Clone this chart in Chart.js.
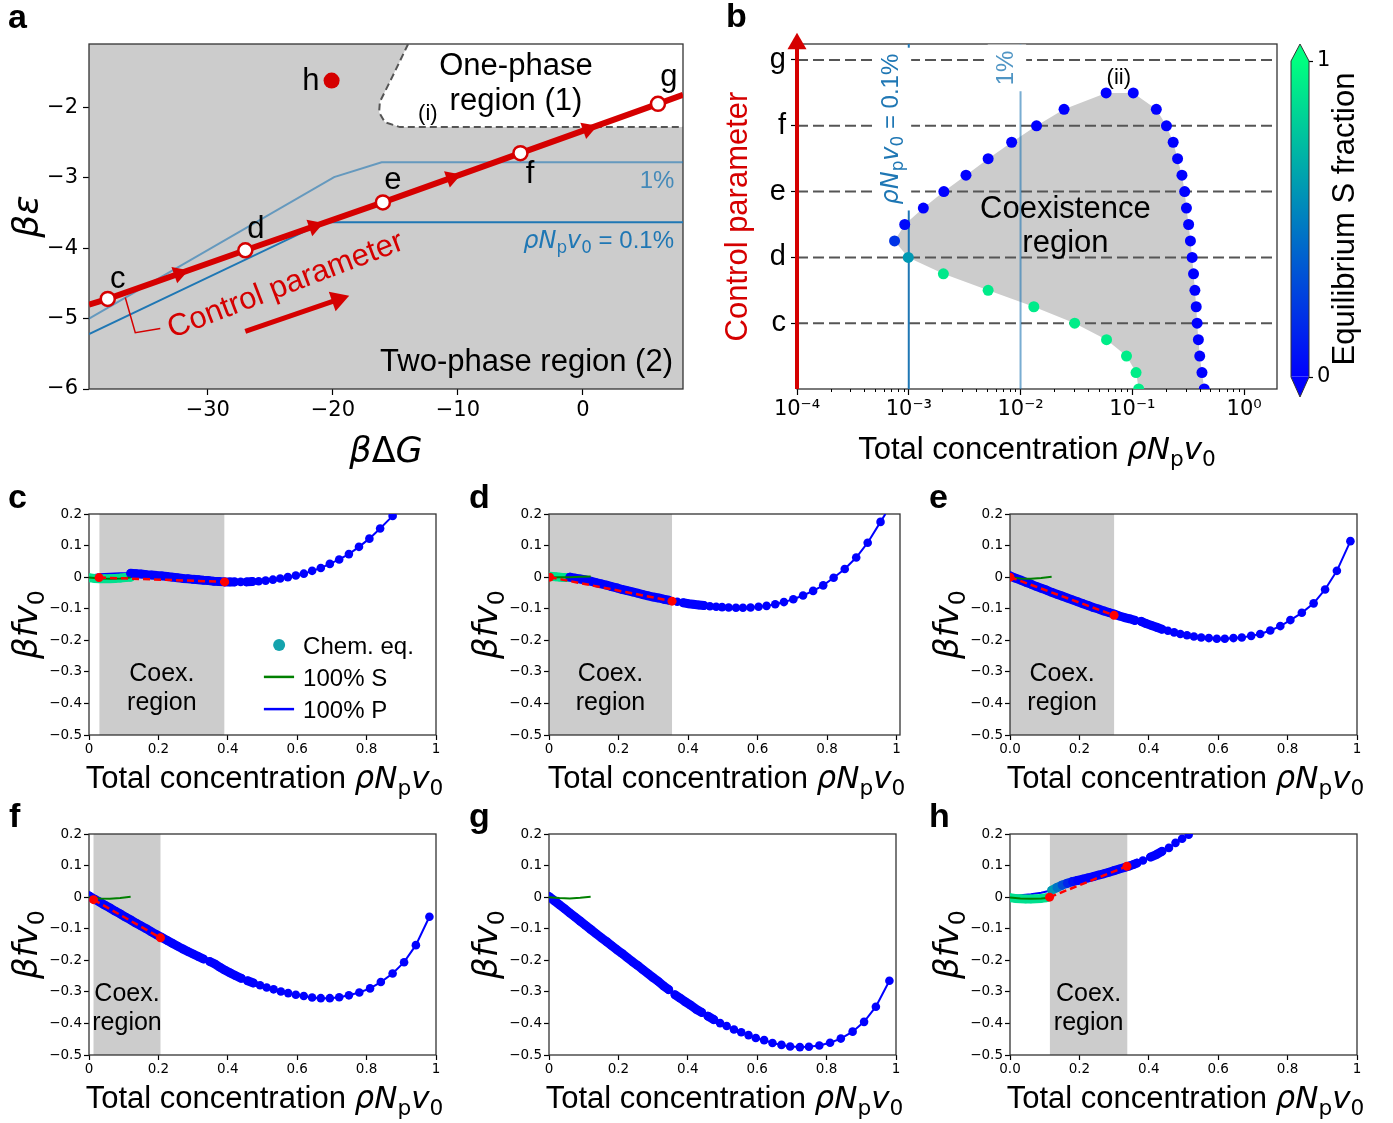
<!DOCTYPE html>
<html>
<head>
<meta charset="utf-8">
<title>Phase diagram and free energy curves</title>
<script src="https://cdn.jsdelivr.net/npm/chart.js@4.4.1/dist/chart.umd.min.js"></script>
<style>
  body { margin: 0; background: #fff; }
  #fig { position: relative; width: 1393px; height: 1123px; overflow: hidden; }
  #fig canvas { position: absolute; }
  .tag { position: absolute; font: bold 34px "Liberation Sans", Arial, sans-serif; line-height: 34px; z-index: 2; }
</style>
</head>
<body>
<div id="fig">
  <canvas id="chartA" width="700" height="475" style="left:0;top:0;width:700px;height:475px"></canvas>
  <canvas id="chartB" width="590" height="475" style="left:700px;top:0;width:590px;height:475px"></canvas>
  <canvas id="chartCb" width="113" height="420" style="left:1280px;top:0;width:113px;height:420px"></canvas>
  <canvas id="chartC" width="460" height="320" style="left:0;top:480px;width:460px;height:320px"></canvas>
  <canvas id="chartD" width="460" height="320" style="left:460px;top:480px;width:460px;height:320px"></canvas>
  <canvas id="chartE" width="473" height="320" style="left:920px;top:480px;width:473px;height:320px"></canvas>
  <canvas id="chartF" width="460" height="323" style="left:0;top:800px;width:460px;height:323px"></canvas>
  <canvas id="chartG" width="460" height="323" style="left:460px;top:800px;width:460px;height:323px"></canvas>
  <canvas id="chartH" width="473" height="323" style="left:920px;top:800px;width:473px;height:323px"></canvas>
  <div class="tag" style="left:8px;top:-1px">a</div>
  <div class="tag" style="left:726px;top:-2px">b</div>
  <div class="tag" style="left:8px;top:479px">c</div>
  <div class="tag" style="left:469px;top:479px">d</div>
  <div class="tag" style="left:929px;top:479px">e</div>
  <div class="tag" style="left:9px;top:798px">f</div>
  <div class="tag" style="left:469px;top:798px">g</div>
  <div class="tag" style="left:929px;top:798px">h</div>
</div>
<script>
// ---- panel a: phase diagram (beta dG, beta eps) ----
const aXTicks = [-30, -20, -10, 0];
const aXLabels = ['−30', '−20', '−10', '0'];
const aYTicks = [-6, -5, -4, -3, -2];
const aYLabels = ['−6', '−5', '−4', '−3', '−2'];
const binodalDG = [-13.98, -15.2, -16.24, -16.3, -15.84, -14.64, 8];
const binodalEps = [-1.10, -1.55, -1.92, -2.07, -2.21, -2.28, -2.28];
const line1DG = [-39.5, -19.9, -16.1, 8];
const line1Eps = [-5.0, -2.99, -2.78, -2.78];
const line01DG = [-39.5, -20.7, 8];
const line01Eps = [-5.22, -3.63, -3.63];
const ctrlDG = [-38, -27, -16, -5, 6];
const ctrlEps = [-4.72, -4.03, -3.35, -2.65, -1.95];
const ctrlEndEps = [-4.80, -1.82];
const ctrlArrowDG = [-32.3, -21.5, -10.5, 0.4];
const ctrlArrowEps = [-4.36, -3.69, -3.0, -2.31];
const pointH = [-20.1, -1.62];
const bracketDG = [-36.6, -35.8, -33.8];
const bracketEps = [-4.70, -5.20, -5.14];
const bigArrowDG = [-27, -19.6];
const bigArrowEps = [-5.18, -4.73];

// ---- panel b: coexistence region vs control parameter ----
const bXTicks = [1e-4, 1e-3, 1e-2, 1e-1, 1];
const bXLabels = ['10⁻⁴', '10⁻³', '10⁻²', '10⁻¹', '10⁰'];
const bYTicks = [1, 2, 3, 4, 5];
const bYLabels = ['c', 'd', 'e', 'f', 'g'];
const lowY = [0, 0.25, 0.5, 0.75, 1.0, 1.25, 1.5, 1.75, 2.0];
const lowX = [0.114, 0.108, 0.0887, 0.0588, 0.0305, 0.01315, 0.00513, 0.00204, 0.00099];
const lowS = [0.93, 0.93, 0.93, 0.93, 0.93, 0.92, 0.92, 0.91, 0.6];
const leftY = [2.25, 2.5, 2.75, 3.0, 3.25, 3.5, 3.75, 4.0, 4.25, 4.5];
const leftX = [0.000746, 0.00092, 0.00135, 0.00206, 0.00325, 0.00513, 0.00833, 0.0139, 0.0245, 0.0583];
const leftS = [0.2, 0.03, 0, 0, 0, 0, 0, 0, 0, 0];
const rightY = [4.5, 4.25, 4.0, 3.75, 3.5, 3.25, 3.0, 2.75, 2.5, 2.25, 2.0, 1.75, 1.5, 1.25, 1.0, 0.75, 0.5, 0.25, 0];
const rightX = [0.102, 0.164, 0.202, 0.232, 0.254, 0.278, 0.294, 0.305, 0.319, 0.331, 0.343, 0.353, 0.363, 0.373, 0.380, 0.390, 0.401, 0.420, 0.440];
const cbTicks = [0, 1];
const cbLabels = ['0', '1'];

// ---- panels c-h: free energy curves ----
const smallXTicks = [0, 0.2, 0.4, 0.6, 0.8, 1];
const smallXLabelsInt = ['0', '0.2', '0.4', '0.6', '0.8', '1'];
const smallXLabelsDec = ['0.0', '0.2', '0.4', '0.6', '0.8', '1'];
const smallYTicks = [-0.5, -0.4, -0.3, -0.2, -0.1, 0, 0.1, 0.2];
const smallYLabels = ['−0.5', '−0.4', '−0.3', '−0.2', '−0.1', '0', '0.1', '0.2'];

const cLeadX = [0, 0.03, 0.06, 0.09];
const cLeadY = [0.004, 0.009, 0.011, 0.012];
const cEqX = [0.12, 0.135, 0.15, 0.165, 0.18, 0.195, 0.21, 0.225, 0.24, 0.255, 0.27, 0.285, 0.3, 0.315, 0.33, 0.345, 0.36, 0.375, 0.39, 0.406, 0.42, 0.437, 0.454, 0.471, 0.489, 0.509, 0.53, 0.551, 0.573, 0.596, 0.619, 0.643, 0.668, 0.694, 0.721, 0.749, 0.778, 0.808, 0.839, 0.875];
const cEqY = [0.012, 0.011, 0.010, 0.008, 0.007, 0.005, 0.004, 0.002, 0.0, -0.002, -0.004, -0.005, -0.007, -0.008, -0.010, -0.011, -0.013, -0.014, -0.015, -0.015, -0.015, -0.015, -0.015, -0.014, -0.013, -0.011, -0.008, -0.0045, 0.0, 0.005, 0.011, 0.020, 0.029, 0.042, 0.056, 0.073, 0.096, 0.122, 0.154, 0.194];
const cTailX = [0.882];
const cTailY = [0.2];
const cGrX = [0, 0.015, 0.03, 0.045, 0.06, 0.075, 0.09, 0.105, 0.12];
const cGrY = [-0.002, -0.004, -0.005, -0.005, -0.005, -0.004, -0.003, -0.001, 0.0];
const cSX = [0, 0.03, 0.06, 0.09, 0.12];
const cSY = [-0.001, -0.004, -0.005, -0.004, -0.001];
const cTanX = [0.029, 0.391];
const cTanY = [-0.0014, -0.015];
const cCoex = [0.03, 0.39];

const dLeadX = [0, 0.03];
const dLeadY = [0.003, 0.003];
const dEqX = [0.06, 0.075, 0.09, 0.105, 0.12, 0.135, 0.15, 0.165, 0.18, 0.195, 0.21, 0.225, 0.24, 0.255, 0.27, 0.285, 0.3, 0.315, 0.33, 0.345, 0.369, 0.386, 0.4, 0.415, 0.431, 0.446, 0.463, 0.481, 0.498, 0.517, 0.538, 0.558, 0.58, 0.603, 0.626, 0.651, 0.676, 0.703, 0.731, 0.76, 0.789, 0.819, 0.851, 0.884, 0.917, 0.954];
const dEqY = [0.0, -0.003, -0.006, -0.009, -0.013, -0.017, -0.021, -0.025, -0.030, -0.034, -0.039, -0.043, -0.047, -0.051, -0.055, -0.059, -0.063, -0.066, -0.070, -0.073, -0.078, -0.081, -0.084, -0.086, -0.088, -0.090, -0.092, -0.094, -0.095, -0.096, -0.097, -0.097, -0.096, -0.094, -0.091, -0.086, -0.079, -0.070, -0.058, -0.0435, -0.026, -0.002, 0.026, 0.062, 0.109, 0.175];
const dTailX = [0.968];
const dTailY = [0.2];
const dGrX = [0, 0.01, 0.02, 0.03, 0.04, 0.05];
const dGrY = [0.003, 0.002, 0.001, 0.0, -0.001, -0.001];
const dSX = [0, 0.03, 0.06, 0.09, 0.12];
const dSY = [-0.001, 0.0, 0.0, 0.001, 0.002];
const dTanX = [0.002, 0.354];
const dTanY = [0.0, -0.076];
const dCoex = [0, 0.354];

const eEqX = [0, 0.015, 0.03, 0.045, 0.06, 0.075, 0.09, 0.105, 0.12, 0.135, 0.15, 0.165, 0.18, 0.195, 0.21, 0.225, 0.24, 0.255, 0.27, 0.285, 0.3, 0.315, 0.33, 0.345, 0.36, 0.378, 0.392, 0.408, 0.423, 0.438, 0.455, 0.473, 0.491, 0.51, 0.53, 0.551, 0.573, 0.596, 0.619, 0.644, 0.668, 0.695, 0.721, 0.75, 0.779, 0.808, 0.841, 0.875, 0.908, 0.942, 0.981];
const eEqY = [0.004, -0.003, -0.009, -0.016, -0.022, -0.029, -0.035, -0.041, -0.048, -0.054, -0.060, -0.066, -0.072, -0.078, -0.084, -0.090, -0.096, -0.101, -0.107, -0.112, -0.117, -0.123, -0.128, -0.132, -0.137, -0.140, -0.147, -0.153, -0.159, -0.165, -0.170, -0.175, -0.180, -0.184, -0.188, -0.191, -0.193, -0.195, -0.195, -0.193, -0.191, -0.186, -0.180, -0.169, -0.155, -0.136, -0.113, -0.083, -0.039, 0.020, 0.114];
const eSX = [0, 0.03, 0.06, 0.09, 0.12];
const eSY = [0.0, -0.004, -0.005, -0.003, 0.001];
const eTanX = [0.0, 0.30];
const eTanY = [0.0, -0.121];
const eCoex = [0, 0.30];

const fEqX = [0, 0.015, 0.03, 0.045, 0.06, 0.075, 0.09, 0.105, 0.12, 0.135, 0.15, 0.165, 0.18, 0.195, 0.21, 0.225, 0.24, 0.255, 0.27, 0.285, 0.3, 0.315, 0.33, 0.348, 0.363, 0.377, 0.391, 0.407, 0.423, 0.439, 0.457, 0.474, 0.493, 0.512, 0.532, 0.553, 0.574, 0.596, 0.619, 0.643, 0.668, 0.694, 0.721, 0.749, 0.779, 0.81, 0.841, 0.875, 0.908, 0.942, 0.981];
const fEqY = [0.004, -0.006, -0.015, -0.025, -0.034, -0.044, -0.053, -0.063, -0.072, -0.082, -0.091, -0.100, -0.110, -0.119, -0.128, -0.137, -0.146, -0.155, -0.164, -0.172, -0.180, -0.188, -0.196, -0.204, -0.212, -0.222, -0.231, -0.240, -0.249, -0.257, -0.265, -0.272, -0.279, -0.286, -0.292, -0.299, -0.304, -0.309, -0.313, -0.318, -0.320, -0.320, -0.317, -0.311, -0.302, -0.289, -0.269, -0.242, -0.206, -0.152, -0.062];
const fSX = [0, 0.03, 0.06, 0.09, 0.12];
const fSY = [0.0, -0.004, -0.005, -0.003, 0.001];
const fTanX = [0.013, 0.206];
const fTanY = [-0.008, -0.129];
const fCoex = [0.013, 0.206];

const gEqX = [0, 0.015, 0.03, 0.045, 0.06, 0.075, 0.09, 0.105, 0.12, 0.135, 0.15, 0.165, 0.18, 0.195, 0.21, 0.225, 0.24, 0.255, 0.27, 0.285, 0.3, 0.315, 0.33, 0.345, 0.363, 0.378, 0.392, 0.408, 0.424, 0.44, 0.458, 0.475, 0.493, 0.512, 0.533, 0.554, 0.575, 0.596, 0.62, 0.644, 0.67, 0.695, 0.723, 0.749, 0.779, 0.81, 0.841, 0.875, 0.908, 0.942, 0.981];
const gEqY = [0.002, -0.011, -0.024, -0.037, -0.050, -0.063, -0.076, -0.089, -0.102, -0.115, -0.128, -0.140, -0.153, -0.166, -0.178, -0.191, -0.204, -0.216, -0.229, -0.242, -0.255, -0.267, -0.281, -0.293, -0.309, -0.320, -0.331, -0.342, -0.355, -0.365, -0.377, -0.388, -0.399, -0.408, -0.419, -0.428, -0.437, -0.446, -0.453, -0.462, -0.468, -0.473, -0.475, -0.474, -0.470, -0.461, -0.448, -0.426, -0.395, -0.347, -0.265];
const gSX = [0, 0.03, 0.06, 0.09, 0.12];
const gSY = [0.0, -0.003, -0.004, -0.002, 0.001];

const hLeadX = [0, 0.03, 0.06, 0.09];
const hLeadY = [0.005, 0.006, 0.009, 0.014];
const hEqX = [0.12, 0.135, 0.15, 0.165, 0.18, 0.195, 0.21, 0.225, 0.24, 0.255, 0.27, 0.285, 0.3, 0.315, 0.33, 0.345, 0.355, 0.366, 0.383, 0.405, 0.422, 0.438, 0.458, 0.477, 0.496, 0.515];
const hEqY = [0.022, 0.030, 0.038, 0.044, 0.049, 0.053, 0.057, 0.061, 0.065, 0.070, 0.074, 0.079, 0.084, 0.089, 0.094, 0.099, 0.103, 0.108, 0.116, 0.127, 0.135, 0.145, 0.156, 0.172, 0.185, 0.198];
const hEqS = [0.6, 0.45, 0.3, 0.15, 0.05, 0, 0, 0, 0, 0, 0, 0, 0, 0, 0, 0, 0, 0, 0, 0, 0, 0, 0, 0, 0, 0];
const hTailX = [0.53];
const hTailY = [0.21];
const hGrX = [0, 0.015, 0.03, 0.045, 0.06, 0.075, 0.09, 0.105];
const hGrY = [-0.002, -0.004, -0.005, -0.006, -0.006, -0.005, -0.004, -0.002];
const hSX = [0, 0.03, 0.06, 0.09, 0.12];
const hSY = [-0.001, -0.004, -0.005, -0.004, -0.001];
const hTanX = [0.114, 0.337];
const hTanY = [0.0, 0.098];
const hCoex = [0.115, 0.338];

// ---- look ----
const FR = '"Liberation Sans", Arial, sans-serif';
const FM = '"DejaVu Sans", sans-serif';
const RED = '#d50000';
const C0 = '#1f77b4';
const C0L = 'rgba(31,119,180,0.6)';
const C0T = 'rgba(31,119,180,0.78)';
const GREY = '#cccccc';
const TEAL = '#14a3ad';
const GREEN_S = 0.88;
const DENSE_GAP = 0.017;   // points closer than this merge into a band

Chart.defaults.font.family = FM;
Chart.defaults.color = '#000';
Chart.defaults.animation = false;
Chart.defaults.events = [];
Chart.defaults.plugins.legend.display = false;
Chart.defaults.plugins.tooltip.enabled = false;

function pts(xs, ys) { return xs.map((x, i) => ({ x: x, y: ys[i] })); }
function winter(s) { return 'rgb(0,' + Math.round(255 * s) + ',' + Math.round(255 * (1 - 0.5 * s)) + ')'; }

function ds(xs, ys, extra) {
  return Object.assign({ data: pts(xs, ys), showLine: false, pointRadius: 0, pointBorderWidth: 0, borderWidth: 2 }, extra);
}

// markers that sit close together are drawn as one thick band
function bandDs(xs, ys, colors, extra) {
  return ds(xs, ys, Object.assign({
    showLine: true, borderWidth: 9, borderCapStyle: 'round', borderJoinStyle: 'round',
    borderColor: 'rgba(0,0,0,0)', pointRadius: 4.3,
    pointBackgroundColor: colors,
    segment: {
      borderColor: s => (s.p1.parsed.x - s.p0.parsed.x) < DENSE_GAP ? colors[s.p0DataIndex] : 'rgba(0,0,0,0)'
    }
  }, extra));
}

function axis(o) {
  return {
    type: o.type || 'linear', min: o.min, max: o.max, bounds: 'data', position: o.position,
    afterBuildTicks: s => { s.ticks = o.ticks.map(v => ({ value: v })); },
    afterFit: s => { if (o.width != null) s.width = o.width; if (o.height != null) s.height = o.height; },
    grid: { drawOnChartArea: false, drawTicks: true, tickLength: o.tickLength || 5, tickColor: '#000', tickWidth: 1.2 },
    border: { display: false },
    ticks: {
      autoSkip: false, maxRotation: 0, minRotation: 0, padding: o.pad, color: '#000',
      font: { family: o.family || FM, size: o.size },
      callback: (v, i) => o.labels[i]
    }
  };
}

function fontFor(style, size) {
  if (style === 'i') return 'italic ' + size + 'px ' + FM;
  if (style === 'm') return size + 'px ' + FM;
  if (style === 'sub') return (size * 0.7) + 'px ' + FM;
  return size + 'px ' + FR;
}

// text made of runs: regular, math italic, math upright, subscript
function drawRich(ctx, parts, x, y, size, opt) {
  opt = opt || {};
  ctx.save();
  ctx.translate(x, y);
  if (opt.rot) ctx.rotate(opt.rot);
  let w = 0;
  parts.forEach(p => { ctx.font = fontFor(p[1], size); w += ctx.measureText(p[0]).width; });
  let cx = opt.align === 'left' ? 0 : opt.align === 'right' ? -w : -w / 2;
  const dy = opt.middle ? size * 0.35 : 0;
  if (opt.box) {
    const pad = 6;
    ctx.fillStyle = '#fff';
    ctx.fillRect(cx - pad, dy - size * 0.8 - pad, w + 2 * pad, size * 1.1 + 2 * pad);
  }
  ctx.fillStyle = opt.color || '#000';
  ctx.textAlign = 'left';
  ctx.textBaseline = 'alphabetic';
  parts.forEach(p => {
    ctx.font = fontFor(p[1], size);
    ctx.fillText(p[0], cx, dy + (p[1] === 'sub' ? size * 0.22 : 0));
    cx += ctx.measureText(p[0]).width;
  });
  ctx.restore();
}

function drawLabels(chart, list) {
  const { ctx, scales: { x, y } } = chart;
  list.forEach(l => drawRich(ctx, l.parts, x.getPixelForValue(l.x), y.getPixelForValue(l.y), l.size, l));
}

function drawFrame(chart) {
  const { ctx, chartArea: a } = chart;
  ctx.save();
  ctx.strokeStyle = '#333';
  ctx.lineWidth = 1.3;
  ctx.strokeRect(a.left, a.top, a.right - a.left, a.bottom - a.top);
  ctx.restore();
}

const RHO_NPV0 = [['ρ', 'i'], ['N', 'i'], ['p', 'sub'], ['v', 'i'], ['0', 'sub']];
const X_TITLE = [['Total concentration ', 'r']].concat(RHO_NPV0);
const Y_TITLE_SMALL = [['β', 'i'], ['f', 'i'], ['v', 'i'], ['0', 'sub']];

// ================= panel a =================
const aLabels = [
  { parts: [['h', 'r']], x: -21.76, y: -1.76, size: 31 },
  { parts: [['One-phase', 'r']], x: -5.36, y: -1.545, size: 31 },
  { parts: [['region (1)', 'r']], x: -5.36, y: -2.04, size: 31 },
  { parts: [['(i)', 'r']], x: -12.4, y: -2.18, size: 22 },
  { parts: [['g', 'r']], x: 6.88, y: -1.69, size: 31 },
  { parts: [['f', 'r']], x: -4.24, y: -3.08, size: 31 },
  { parts: [['e', 'r']], x: -15.2, y: -3.16, size: 31 },
  { parts: [['d', 'r']], x: -26.16, y: -3.86, size: 31 },
  { parts: [['c', 'r']], x: -37.2, y: -4.56, size: 31 },
  { parts: [['1%', 'r']], x: 5.92, y: -3.14, size: 24, color: C0T },
  { parts: RHO_NPV0.concat([[' = 0.1%', 'r']]), x: 7.28, y: -4.0, size: 24, color: C0, align: 'right' },
  { parts: [['Two-phase region (2)', 'r']], x: 7.2, y: -5.74, size: 31, align: 'right' },
  { parts: [['Control parameter', 'r']], x: -23.84, y: -4.5, size: 31, color: RED, rot: -21 * Math.PI / 180, middle: true }
];

const panelAPlugin = {
  id: 'panelA',
  beforeDatasetsDraw(chart) {
    const { ctx, chartArea: a, scales: { x, y } } = chart;
    ctx.save();
    ctx.fillStyle = GREY;
    ctx.fillRect(a.left, a.top, a.right - a.left, a.bottom - a.top);
    ctx.beginPath();
    binodalDG.forEach((g, i) => {
      const px = x.getPixelForValue(g), py = y.getPixelForValue(binodalEps[i]);
      if (i === 0) ctx.moveTo(px, py); else ctx.lineTo(px, py);
    });
    ctx.lineTo(x.getPixelForValue(x.max), y.getPixelForValue(y.max));
    ctx.closePath();
    ctx.fillStyle = '#fff';
    ctx.fill();
    ctx.restore();
    drawFrame(chart);
  },
  afterDatasetsDraw(chart) {
    const { ctx, chartArea: a } = chart;
    drawLabels(chart, aLabels);
    drawRich(ctx, [['β', 'i'], ['Δ', 'm'], ['G', 'i']], (a.left + a.right) / 2, a.bottom + 73, 35);
    drawRich(ctx, [['β', 'i'], ['ε', 'i']], a.left - 51, (a.top + a.bottom) / 2, 36, { rot: -Math.PI / 2 });
  }
};

new Chart(document.getElementById('chartA'), {
  type: 'scatter',
  data: {
    datasets: [
      ds(ctrlDG, ctrlEps, { pointRadius: 7, pointBackgroundColor: '#fff', pointBorderColor: RED, pointBorderWidth: 2.5, order: 0 }),
      ds(ctrlArrowDG, ctrlArrowEps, { pointStyle: 'triangle', pointRotation: 70.6, pointRadius: 10, pointBackgroundColor: RED, order: 1 }),
      ds([-39.5].concat(ctrlDG, [8]), [ctrlEndEps[0]].concat(ctrlEps, [ctrlEndEps[1]]), { showLine: true, borderColor: RED, borderWidth: 6, order: 2 }),
      ds([pointH[0]], [pointH[1]], { pointRadius: 8, pointBackgroundColor: RED, order: 3 }),
      ds(bracketDG, bracketEps, { showLine: true, borderColor: RED, borderWidth: 1.5, order: 4 }),
      ds(bigArrowDG, bigArrowEps, { showLine: true, borderColor: RED, borderWidth: 5, pointStyle: 'triangle', pointRotation: 70.9, pointRadius: [0, 12], pointBackgroundColor: RED, order: 5 }),
      ds(line01DG, line01Eps, { showLine: true, borderColor: C0, borderWidth: 2, order: 6 }),
      ds(line1DG, line1Eps, { showLine: true, borderColor: C0L, borderWidth: 2, order: 7 }),
      ds(binodalDG, binodalEps, { showLine: true, borderColor: '#555', borderWidth: 2, borderDash: [7, 4], order: 8 })
    ]
  },
  options: {
    responsive: false,
    layout: { padding: { top: 44, right: 17, left: 0, bottom: 0 } },
    scales: {
      x: axis({ min: -39.5, max: 8, ticks: aXTicks, labels: aXLabels, height: 86, size: 21, pad: 3, tickLength: 6 }),
      y: axis({ min: -6, max: -1.1, ticks: aYTicks, labels: aYLabels, width: 89, size: 21, pad: 5, tickLength: 6 })
    }
  },
  plugins: [panelAPlugin]
});

// ================= panel b =================
const bMaxX = 1.97;
const bMaxY = 5.243;
const bLabels = [
  { parts: [['(ii)', 'r']], x: 0.0757, y: 4.757, size: 22, middle: true },
  { parts: [['Coexistence', 'r']], x: 0.0252, y: 2.60, size: 31 },
  { parts: [['region', 'r']], x: 0.0252, y: 2.08, size: 31 },
  { parts: RHO_NPV0.concat([[' = 0.1%', 'r']]), x: 8.0e-4, y: 3.95, size: 24, color: C0, rot: -Math.PI / 2, box: true },
  { parts: [['1%', 'r']], x: 0.00855, y: 4.88, size: 24, color: C0T, rot: -Math.PI / 2, box: true }
];

const dotX = lowX.concat(leftX, rightX);
const dotY = lowY.concat(leftY, rightY);
const dotS = lowS.concat(leftS, rightX.map(() => 0));

const panelBPlugin = {
  id: 'panelB',
  beforeDatasetsDraw(chart) {
    const { ctx, scales: { x, y } } = chart;
    ctx.save();
    ctx.beginPath();
    dotX.forEach((v, i) => {
      const px = x.getPixelForValue(v), py = y.getPixelForValue(dotY[i]);
      if (i === 0) ctx.moveTo(px, py); else ctx.lineTo(px, py);
    });
    ctx.closePath();
    ctx.fillStyle = GREY;
    ctx.fill();
    ctx.restore();
    drawFrame(chart);
  },
  afterDraw(chart) {
    const { ctx, chartArea: a, scales: { x } } = chart;
    // minor ticks of the log axis
    ctx.save();
    ctx.strokeStyle = '#000';
    ctx.lineWidth = 1;
    for (let d = -4; d <= 0; d++) {
      for (let m = 2; m <= 9; m++) {
        const v = m * Math.pow(10, d);
        if (v > x.max) continue;
        const px = Math.round(x.getPixelForValue(v)) + 0.5;
        ctx.beginPath(); ctx.moveTo(px, a.bottom); ctx.lineTo(px, a.bottom + 3); ctx.stroke();
      }
    }
    ctx.restore();
    drawLabels(chart, bLabels);
    drawRich(ctx, X_TITLE, (a.left + a.right) / 2, a.bottom + 70, 31);
    drawRich(ctx, [['Control parameter', 'r']], a.left - 50, (a.top + a.bottom) / 2, 31, { rot: -Math.PI / 2, color: RED });
  }
};

const bDatasets = [
  ds(dotX, dotY, { pointRadius: 5.5, pointBackgroundColor: dotS.map(winter), order: 0 }),
  ds([1e-4, 1e-4], [0, 5.248], { showLine: true, borderColor: RED, borderWidth: 4, pointStyle: 'triangle', pointRadius: [0, 11], pointBackgroundColor: RED, clip: false, order: 1 }),
  ds([1e-3, 1e-3], [0, bMaxY], { showLine: true, borderColor: C0, borderWidth: 2, order: 2 }),
  ds([1e-2, 1e-2], [0, bMaxY], { showLine: true, borderColor: C0L, borderWidth: 2, order: 3 })
];
bYTicks.forEach((lv, i) => {
  bDatasets.push(ds([1e-4, bMaxX], [lv, lv], { showLine: true, borderColor: '#555', borderWidth: 2, borderDash: [11, 5], order: 4 + i }));
});

new Chart(document.getElementById('chartB'), {
  type: 'scatter',
  data: { datasets: bDatasets },
  options: {
    responsive: false,
    layout: { padding: { top: 44, right: 13, left: 0, bottom: 0 } },
    scales: {
      x: axis({ type: 'logarithmic', min: 1e-4, max: bMaxX, ticks: bXTicks, labels: bXLabels, height: 86, size: 21, pad: 2, tickLength: 6 }),
      y: axis({ min: 0, max: bMaxY, ticks: bYTicks, labels: bYLabels, width: 97, size: 29, family: FR, pad: 5, tickLength: 6 })
    }
  },
  plugins: [panelBPlugin]
});

// ================= colorbar =================
const cbPlugin = {
  id: 'cbar',
  afterDatasetsDraw(chart) {
    const { ctx, chartArea: a } = chart;
    const mid = (a.left + a.right) / 2;
    ctx.save();
    ctx.beginPath(); ctx.moveTo(a.left, a.top); ctx.lineTo(mid, a.top - 17); ctx.lineTo(a.right, a.top); ctx.closePath();
    ctx.fillStyle = winter(1); ctx.fill();
    ctx.beginPath(); ctx.moveTo(a.left, a.bottom); ctx.lineTo(mid, a.bottom + 20); ctx.lineTo(a.right, a.bottom); ctx.closePath();
    ctx.fillStyle = winter(0); ctx.fill();
    ctx.beginPath();
    ctx.moveTo(a.left, a.top); ctx.lineTo(mid, a.top - 17); ctx.lineTo(a.right, a.top);
    ctx.lineTo(a.right, a.bottom); ctx.lineTo(mid, a.bottom + 20); ctx.lineTo(a.left, a.bottom); ctx.closePath();
    ctx.strokeStyle = '#333'; ctx.lineWidth = 1; ctx.stroke();
    ctx.restore();
    drawRich(ctx, [['Equilibrium S fraction', 'r']], a.right + 45, (a.top + a.bottom) / 2, 31, { rot: -Math.PI / 2 });
  }
};

new Chart(document.getElementById('chartCb'), {
  type: 'bar',
  data: {
    labels: [''],
    datasets: [{
      data: [1], barPercentage: 1, categoryPercentage: 1, borderWidth: 0,
      backgroundColor: c => {
        const a = c.chart.chartArea;
        if (!a) return winter(0);
        const g = c.chart.ctx.createLinearGradient(0, a.bottom, 0, a.top);
        g.addColorStop(0, winter(0));
        g.addColorStop(1, winter(1));
        return g;
      }
    }]
  },
  options: {
    responsive: false,
    layout: { padding: { top: 61, left: 11, right: 0, bottom: 43 } },
    scales: {
      x: { display: false },
      y: axis({ min: 0, max: 1, position: 'right', ticks: cbTicks, labels: cbLabels, width: 84, size: 21, pad: 4, tickLength: 4 })
    }
  },
  plugins: [cbPlugin]
});

// ================= panels c-h =================
const coexTextY = [-0.329, -0.421];
const legendSpec = { dot: [0.548, -0.215], lineX: [0.504, 0.591], lineY: [-0.316, -0.418], textX: 0.617, textY: [-0.243, -0.345, -0.446] };

function smallPanel(p) {
  const datasets = [];
  const eqColors = p.eqX.map((_, i) => winter(p.eqS ? p.eqS[i] : 0));
  if (p.tanX) datasets.push(ds(p.tanX, p.tanY, { showLine: true, borderColor: '#ff0000', borderWidth: 2.5, borderDash: [7, 4], pointRadius: 4.5, pointBackgroundColor: '#ff0000', order: 0 }));
  datasets.push(ds(p.sX, p.sY, { showLine: true, borderColor: '#008000', borderWidth: 2, order: 1 }));
  datasets.push(bandDs(p.eqX, p.eqY, eqColors, { order: 2 }));
  if (p.grX) datasets.push(bandDs(p.grX, p.grY, p.grX.map(() => winter(GREEN_S)), { order: 3 }));
  datasets.push(ds(p.lineX, p.lineY, { showLine: true, borderColor: '#0000ff', borderWidth: 2, order: 4 }));

  const plugin = {
    id: 'small' + p.id,
    beforeDatasetsDraw(chart) {
      const { ctx, chartArea: a, scales: { x } } = chart;
      if (p.coex) {
        const l = x.getPixelForValue(p.coex[0]), r = x.getPixelForValue(p.coex[1]);
        ctx.save(); ctx.fillStyle = GREY; ctx.fillRect(l, a.top, r - l, a.bottom - a.top); ctx.restore();
      }
      drawFrame(chart);
    },
    afterDatasetsDraw(chart) {
      const { ctx, chartArea: a, scales: { x, y } } = chart;
      if (p.coex) {
        const cx = x.getPixelForValue((p.coex[0] + p.coex[1]) / 2);
        drawRich(ctx, [['Coex.', 'r']], cx, y.getPixelForValue(coexTextY[0]), 25);
        drawRich(ctx, [['region', 'r']], cx, y.getPixelForValue(coexTextY[1]), 25);
      }
      if (p.legend) {
        const L = legendSpec;
        ctx.save();
        ctx.beginPath();
        ctx.arc(x.getPixelForValue(L.dot[0]), y.getPixelForValue(L.dot[1]), 6, 0, Math.PI * 2);
        ctx.fillStyle = TEAL; ctx.fill();
        [['#008000', L.lineY[0]], ['#0000ff', L.lineY[1]]].forEach(s => {
          ctx.beginPath();
          ctx.moveTo(x.getPixelForValue(L.lineX[0]), y.getPixelForValue(s[1]));
          ctx.lineTo(x.getPixelForValue(L.lineX[1]), y.getPixelForValue(s[1]));
          ctx.strokeStyle = s[0]; ctx.lineWidth = 2.5; ctx.stroke();
        });
        ctx.restore();
        ['Chem. eq.', '100% S', '100% P'].forEach((t, i) => {
          drawRich(ctx, [[t, 'r']], x.getPixelForValue(L.textX), y.getPixelForValue(L.textY[i]), 24, { align: 'left' });
        });
      }
      drawRich(ctx, X_TITLE, (a.left + a.right) / 2 + 2, a.bottom + 53, 31);
      drawRich(ctx, Y_TITLE_SMALL, a.left - 52, (a.top + a.bottom) / 2, 34, { rot: -Math.PI / 2 });
    }
  };

  new Chart(document.getElementById(p.id), {
    type: 'scatter',
    data: { datasets: datasets },
    options: {
      responsive: false,
      layout: { padding: { top: 34, right: p.right, left: 0, bottom: 0 } },
      scales: {
        x: axis({ min: 0, max: p.xMax, ticks: smallXTicks, labels: p.xLabels, height: p.xHeight, size: 13.5, pad: 1, tickLength: 5 }),
        y: axis({ min: -0.5, max: 0.2, ticks: smallYTicks, labels: smallYLabels, width: p.yWidth, size: 13.5, pad: 2, tickLength: 5 })
      }
    },
    plugins: [plugin]
  });
}

smallPanel({ id: 'chartC', lineX: cLeadX.concat(cEqX, cTailX), lineY: cLeadY.concat(cEqY, cTailY), eqX: cEqX, eqY: cEqY, grX: cGrX, grY: cGrY, sX: cSX, sY: cSY, tanX: cTanX, tanY: cTanY, coex: cCoex, legend: true, xMax: 1, xLabels: smallXLabelsInt, right: 24, yWidth: 89, xHeight: 65 });
smallPanel({ id: 'chartD', lineX: dLeadX.concat(dEqX, dTailX), lineY: dLeadY.concat(dEqY, dTailY), eqX: dEqX, eqY: dEqY, grX: dGrX, grY: dGrY, sX: dSX, sY: dSY, tanX: dTanX, tanY: dTanY, coex: dCoex, xMax: 1.01, xLabels: smallXLabelsInt, right: 20, yWidth: 89, xHeight: 65 });
smallPanel({ id: 'chartE', lineX: eEqX, lineY: eEqY, eqX: eEqX, eqY: eEqY, sX: eSX, sY: eSY, tanX: eTanX, tanY: eTanY, coex: eCoex, xMax: 1, xLabels: smallXLabelsDec, right: 36, yWidth: 90, xHeight: 65 });
smallPanel({ id: 'chartF', lineX: fEqX, lineY: fEqY, eqX: fEqX, eqY: fEqY, sX: fSX, sY: fSY, tanX: fTanX, tanY: fTanY, coex: fCoex, xMax: 1, xLabels: smallXLabelsInt, right: 24, yWidth: 89, xHeight: 68 });
smallPanel({ id: 'chartG', lineX: gEqX, lineY: gEqY, eqX: gEqX, eqY: gEqY, sX: gSX, sY: gSY, xMax: 1, xLabels: smallXLabelsInt, right: 24, yWidth: 89, xHeight: 68 });
smallPanel({ id: 'chartH', lineX: hLeadX.concat(hEqX, hTailX), lineY: hLeadY.concat(hEqY, hTailY), eqX: hEqX, eqY: hEqY, eqS: hEqS, grX: hGrX, grY: hGrY, sX: hSX, sY: hSY, tanX: hTanX, tanY: hTanY, coex: hCoex, xMax: 1, xLabels: smallXLabelsDec, right: 36, yWidth: 90, xHeight: 68 });
</script>
</body>
</html>
